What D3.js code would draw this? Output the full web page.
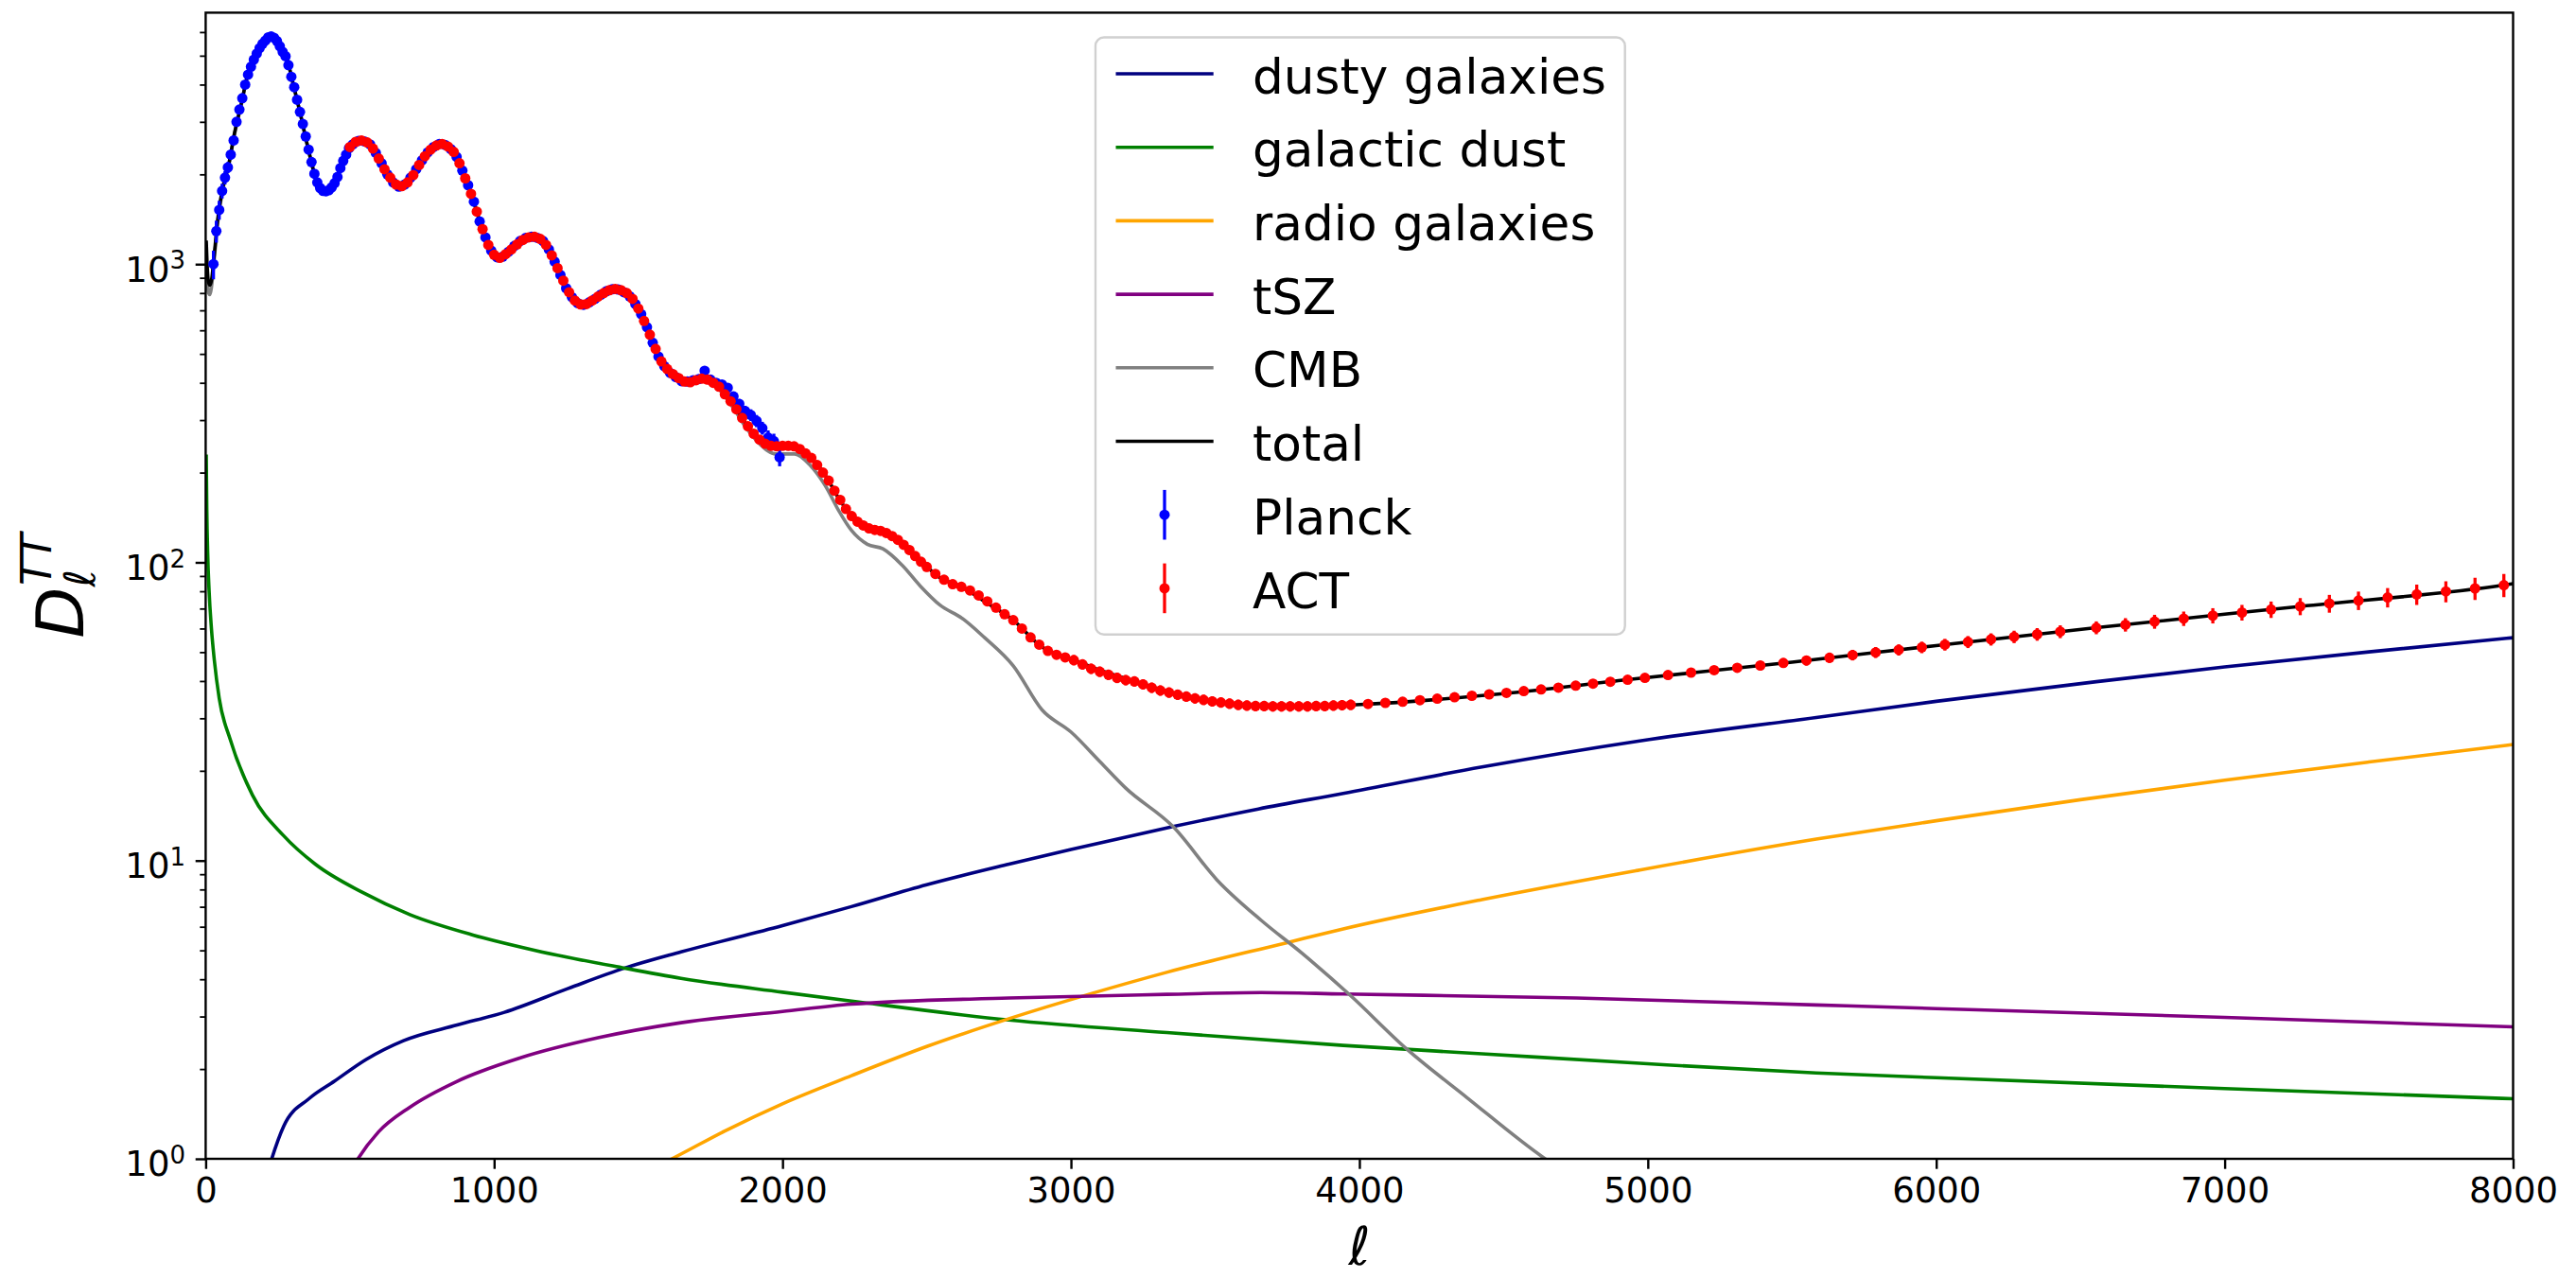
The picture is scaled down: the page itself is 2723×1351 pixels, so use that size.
<!DOCTYPE html>
<html>
<head>
<meta charset="utf-8">
<script src="https://cdn.jsdelivr.net/npm/d3@7"></script>
<style>
    body { margin: 0; background: #fff; }
    text { font-family: "DejaVu Sans", sans-serif; fill: #000; }
</style>
</head>
<body>
<div id="chart"></div>
<script>

// ---- data (ell, D_ell in muK^2) ----

// model curves
const dustyEll = [200, 229, 271, 358, 446, 555, 686, 872, 1036, 1255, 1452, 1648, 2000, 2239, 2500, 2785, 3000, 3354, 3650, 3944, 4425, 4972, 5584, 6000, 6555, 7000, 7500, 8000];
const dustyD   = [0.8, 1.0, 1.29, 1.59, 1.82, 2.15, 2.49, 2.81, 3.10, 3.72, 4.36, 4.94, 6.05, 7.01, 8.3, 9.73, 10.9, 13.0, 14.9, 16.8, 20.6, 25.2, 30.2, 34.2, 39.8, 44.6, 50.1, 55.9];

const galDustEll = [2, 4, 7, 12, 20, 30, 47, 85, 162, 271, 380, 544, 708, 927, 1146, 1452, 1648, 2000, 2239, 2785, 3332, 3944, 4425, 4972, 5584, 6000, 7000, 8000];
const galDustD   = [230, 150, 108, 80, 60, 47, 35, 25.5, 16.6, 12.1, 9.73, 7.82, 6.59, 5.63, 4.99, 4.36, 4.03, 3.62, 3.38, 2.92, 2.65, 2.40, 2.25, 2.09, 1.94, 1.87, 1.72, 1.59];

const radioEll = [1550, 1616, 1800, 2000, 2239, 2500, 2785, 3070, 3332, 3747, 3944, 4425, 4972, 5584, 6000, 6500, 7000, 7500, 8000];
const radioD   = [0.93, 1.0, 1.24, 1.53, 1.9, 2.38, 2.95, 3.58, 4.22, 5.3, 5.9, 7.4, 9.3, 11.8, 13.6, 16.0, 18.6, 21.4, 24.5];

const tszEll = [500, 528, 599, 708, 872, 1091, 1364, 1648, 2000, 2239, 2785, 3332, 3660, 3944, 4753, 5584, 6000, 7000, 8000];
const tszD   = [0.9, 1.0, 1.23, 1.49, 1.82, 2.18, 2.55, 2.86, 3.12, 3.30, 3.46, 3.56, 3.61, 3.57, 3.46, 3.28, 3.19, 2.98, 2.77];

const cmbEll = [2, 5, 10, 15, 20, 30, 41, 58, 80, 100, 125, 143, 162, 189, 210, 225, 240, 260, 282, 300,
    326, 353, 386, 413, 440, 468, 500, 533, 566, 599, 632, 675, 719, 763, 818, 861, 894, 927, 954, 982,
    1014, 1058, 1124, 1167, 1211, 1255, 1310, 1353, 1419, 1474, 1528, 1583, 1626, 1659, 1725, 1780, 1834, 1878, 1922, 1976,
    2042, 2097, 2151, 2195, 2239, 2294, 2348, 2414, 2479, 2545, 2622, 2700, 2800, 2900, 3000, 3100, 3190, 3354, 3507, 3660,
    3800, 3966, 4163, 4371, 4644, 4800];
const cmbD = [970, 880, 800, 790, 835, 1045, 1355, 1745, 2140, 2720, 3475, 4200, 4695, 5308, 5670, 5790, 5710, 5311, 4877, 4141,
    3258, 2492, 1880, 1747, 1821, 2100, 2462, 2587, 2523, 2261, 1975, 1812, 1975, 2316, 2524, 2373, 2001, 1644, 1351, 1138,
    1044, 1111, 1225, 1197, 1008, 808, 723, 760, 818, 770, 617, 459, 415, 395, 405, 380, 324, 279, 249, 231,
    231, 211, 179, 149, 128, 115, 111, 98, 83, 72, 65, 56, 45, 32, 27, 21.5, 17.5, 13.0, 8.6, 6.3,
    4.9, 3.55, 2.34, 1.61, 1.0, 0.8];

const totalEll = [2, 5, 10, 15, 20, 30, 41, 58, 80, 100, 125, 143, 162, 189, 210, 225, 240, 260, 282, 300,
    326, 353, 386, 413, 440, 468, 500, 533, 566, 599, 632, 675, 719, 763, 818, 861, 894, 927, 954, 982,
    1014, 1058, 1124, 1167, 1211, 1255, 1310, 1353, 1419, 1474, 1528, 1583, 1626, 1659, 1725, 1780, 1834, 1878, 1922, 1976,
    2042, 2097, 2151, 2195, 2239, 2294, 2348, 2414, 2479, 2545, 2622, 2700, 2800, 2900, 3000, 3100, 3223, 3350, 3500, 3660,
    3800, 3988, 4500, 4928, 5500, 6000, 6555, 7264, 7968, 8000];
const totalD = [1200, 1000, 870, 850, 880, 1080, 1390, 1780, 2160, 2750, 3500, 4220, 4710, 5320, 5680, 5800, 5720, 5320, 4886, 4150,
    3266, 2500, 1889, 1756, 1830, 2109, 2472, 2596, 2532, 2270, 1983, 1820, 1983, 2324, 2532, 2381, 2009, 1652, 1359, 1146,
    1052, 1119, 1233, 1205, 1016, 816, 731, 768, 826, 778, 625, 467, 423, 403, 413, 388, 332, 287, 257, 245,
    245, 225, 194, 164, 143, 131, 127, 116, 101, 89, 82.8, 74, 64, 52, 47.5, 43.5, 39.9, 36.5, 34, 33,
    32.8, 33.3, 36.3, 40.4, 46.3, 52.6, 60.4, 71.2, 83.9, 84.8];

// Planck band powers
const planckEll = [27, 37, 47, 57, 67, 77, 87, 97, 107, 117, 127, 137, 147, 157, 167, 177, 187, 197, 207, 217,
    227, 237, 247, 257, 267, 277, 287, 297, 307, 317, 327, 337, 347, 357, 367, 377, 387, 397, 407, 417,
    427, 437, 447, 457, 467, 477, 487, 497,
    510, 530, 550, 570, 590, 610, 630, 650, 670, 690, 710, 730, 750, 770, 790, 810, 830, 850, 870, 890,
    910, 930, 950, 970, 990, 1010, 1030, 1050, 1070, 1090, 1110, 1130, 1150, 1170, 1190, 1210, 1230, 1250, 1270, 1290,
    1310, 1330, 1350, 1370, 1390, 1410, 1430, 1450, 1470, 1490, 1510, 1530, 1550, 1570, 1590, 1610, 1630, 1650, 1670, 1690,
    1710, 1730, 1750, 1770, 1790, 1810, 1830, 1850, 1870, 1890, 1910, 1930, 1950, 1970, 1990];
const planckD = [1000, 1290, 1520, 1760, 1950, 2110, 2330, 2600, 3000, 3300, 3600, 4000, 4320, 4590, 4850, 5080, 5300, 5480, 5620, 5760,
    5800, 5740, 5600, 5380, 5150, 4980, 4650, 4250, 3920, 3560, 3240, 2950, 2680, 2420, 2200, 2010, 1880, 1800, 1760, 1755,
    1770, 1810, 1870, 1960, 2100, 2220, 2330, 2450,
    2520, 2590, 2580, 2520, 2360, 2180, 2000, 1880, 1820, 1850, 1950, 2080, 2230, 2370, 2470, 2530, 2510, 2430, 2290, 2060,
    1840, 1620, 1390, 1230, 1110, 1055, 1060, 1100, 1150, 1195, 1225, 1235, 1225, 1195, 1120, 1020, 920, 830, 775, 740,
    731, 745, 765, 790, 812, 824, 822, 805, 780, 735, 680, 615, 545, 490, 455, 432, 418, 405, 404, 408,
    412, 439, 410, 400, 395, 385, 360, 340, 322, 312, 298, 282, 262, 255, 225];
const planckErr = [110, 110, 110, 100, 100, 90, 90, 90, 60, 60, 60, 60, 60, 60, 60, 60, 60, 60, 60, 60,
    60, 60, 60, 60, 60, 60, 60, 60, 60, 60, 60, 60, 60, 60, 60, 60, 60, 60, 60, 60,
    60, 60, 60, 60, 60, 60, 60, 60,
    20, 20, 20, 20, 20, 20, 20, 20, 20, 20, 20, 20, 20, 20, 20, 20, 20, 20, 20, 20,
    20, 20, 20, 20, 20, 20, 20, 20, 20, 20, 20, 20, 20, 20, 20, 12, 12, 12, 12, 12,
    12, 12, 12, 12, 12, 12, 12, 12, 12, 12, 12, 12, 12, 12, 12, 10, 10, 10, 10, 10,
    10, 12, 12, 12, 12, 12, 13, 13, 13, 14, 14, 14, 15, 15, 15];

// ACT band powers, narrow bins
const actLowEll = [500, 520, 540, 560, 580, 600, 620, 640, 660, 680, 700, 720, 740, 760, 780, 800, 820, 840, 860, 880,
    900, 920, 940, 960, 980, 1000, 1020, 1040, 1060, 1080, 1100, 1120, 1140, 1160, 1180, 1200, 1220, 1240, 1260, 1280,
    1300, 1320, 1340, 1360, 1380, 1400, 1420, 1440, 1460, 1480, 1500, 1520, 1540, 1560, 1580, 1600, 1620, 1640, 1660, 1680,
    1700, 1720, 1740, 1760, 1780, 1800, 1820, 1840, 1860, 1880, 1900, 1920, 1940, 1960, 1980, 2000, 2020, 2040, 2060, 2080,
    2100, 2120, 2140, 2160, 2180, 2200, 2220, 2240, 2260, 2280, 2300, 2320, 2340, 2360, 2380, 2400, 2420, 2440, 2460, 2480,
    2500, 2530, 2560, 2590, 2620, 2650, 2680, 2710, 2740, 2770, 2800, 2830, 2860, 2890, 2920, 2950, 2980, 3010, 3040, 3070,
    3100, 3130, 3160, 3190, 3220, 3250, 3280, 3310, 3340, 3370, 3400, 3430, 3460, 3490, 3520, 3550, 3580, 3610, 3640, 3670,
    3700, 3730, 3760, 3790, 3820, 3850, 3880, 3910, 3940, 3970];
const actLowD = [2470, 2570, 2600, 2560, 2440, 2260, 2080, 1950, 1850, 1825, 1880, 1990, 2150, 2300, 2420, 2500, 2530, 2480, 2380, 2180,
    1940, 1720, 1500, 1310, 1160, 1075, 1050, 1080, 1120, 1165, 1205, 1230, 1235, 1215, 1160, 1070, 970, 880, 805, 755,
    733, 735, 755, 778, 800, 818, 826, 818, 800, 765, 710, 645, 580, 520, 472, 445, 428, 415, 404, 402,
    408, 413, 410, 400, 388, 366, 347, 326, 305, 286, 270, 258, 250, 246, 245, 246, 246, 245, 240, 232,
    224, 212, 200, 188, 174, 162, 151, 143, 137, 133, 130, 128.5, 127.5, 125.5, 122.5, 119, 114.5, 110, 105, 100.5,
    96.5, 91.5, 87.5, 84.5, 82.8, 80.5, 77.5, 74, 70.5, 67, 64, 60, 56, 53, 50.5, 49, 48, 47, 45.5, 44,
    43, 42, 41, 40.3, 39.9, 39, 38, 37.2, 36.6, 36, 35.5, 35, 34.6, 34.2, 33.9, 33.6, 33.3, 33.1, 33, 33,
    32.9, 32.9, 32.9, 32.9, 32.9, 33, 33, 33.1, 33.2, 33.3];
// fractional error of the narrow ACT bins, by ell band (edges in ell)
const actLowErrEdges = [1000, 1600, 2200, 3000];
const actLowErrFrac  = [0.01, 0.02, 0.03, 0.035, 0.04];

// ACT band powers, wide bins at high ell
const actHighEll = [4030, 4090, 4150, 4210, 4270, 4330, 4390, 4450, 4510, 4570, 4630, 4690, 4750, 4810, 4870, 4930, 4990,
    5070, 5150, 5230, 5310, 5390, 5470, 5550, 5630, 5710, 5790, 5870, 5950, 6030, 6110, 6190, 6270, 6350, 6430,
    6555, 6656, 6757, 6858, 6959, 7060, 7161, 7262, 7363, 7464, 7565, 7666, 7767, 7868, 7968];
const actHighD = [33.5, 33.8, 34.1, 34.5, 34.9, 35.3, 35.7, 36.1, 36.5, 37.0, 37.5, 38.0, 38.6, 39.2, 39.8, 40.4, 41.0,
    41.9, 42.7, 43.5, 44.3, 45.1, 46.0, 46.9, 47.9, 48.9, 49.9, 50.9, 51.9, 53.0, 54.1, 55.2, 56.3, 57.4, 58.6,
    60.4, 61.8, 63.3, 64.8, 66.3, 67.9, 69.5, 71.2, 72.8, 74.5, 76.3, 78.1, 79.9, 81.8, 83.9];
const actHighErr = [0.6, 0.6, 0.6, 0.7, 0.7, 0.7, 0.8, 0.8, 0.8, 0.9, 0.9, 0.9, 1.0, 1.0, 1.0, 1.1, 1.1,
    1.2, 1.3, 1.4, 1.5, 1.6, 1.7, 1.8, 1.9, 2.0, 2.1, 2.2, 2.3, 2.4, 2.5, 2.6, 2.7, 2.8, 2.9,
    3.0, 3.2, 3.4, 3.6, 3.9, 4.1, 4.4, 4.7, 5.0, 5.3, 5.7, 6.1, 6.5, 7.0, 7.5];

// axis ticks
const xTicks = [0, 1000, 2000, 3000, 4000, 5000, 6000, 7000, 8000];
const yMajor = [1, 10, 100, 1000];

// legend entries
const legendLines = ["dusty galaxies", "galactic dust", "radio galaxies", "tSZ", "CMB", "total"];
const legendPoints = ["Planck", "ACT"];

// ---- drawing ----

const width = 2723, height = 1351;
const margin = {top: 13.4, right: 66.5, bottom: 126, left: 217.4};
const w = width - margin.left - margin.right;
const h = height - margin.top - margin.bottom;

const colors = {
    dusty: "#000080", dust: "#008000", radio: "#ffa500",
    tsz: "#800080", cmb: "#808080", total: "#000000",
    planck: "#0000ff", act: "#ff0000"
};

const svg = d3.select("#chart").append("svg")
    .attr("width", width)
    .attr("height", height);

svg.append("rect").attr("width", width).attr("height", height).attr("fill", "#fff");

const g = svg.append("g")
    .attr("transform", "translate(" + margin.left + "," + margin.top + ")");

g.append("defs").append("clipPath")
    .attr("id", "clip")
    .append("rect")
    .attr("width", w)
    .attr("height", h);

const x = d3.scaleLinear().domain([0, 8000]).range([0, w]);
const y = d3.scaleLog().domain([1, 6970]).range([h, 0]);

const pairs = (a, b) => a.map((v, i) => [v, b[i]]);

const line = d3.line()
    .x(d => x(d[0]))
    .y(d => y(Math.max(d[1], 0.01)))
    .curve(d3.curveMonotoneX);

const plotArea = g.append("g").attr("clip-path", "url(#clip)");

// model curves
const curves = [
    {ell: dustyEll, d: dustyD, color: colors.dusty},
    {ell: galDustEll, d: galDustD, color: colors.dust},
    {ell: radioEll, d: radioD, color: colors.radio},
    {ell: tszEll, d: tszD, color: colors.tsz},
    {ell: cmbEll, d: cmbD, color: colors.cmb},
    {ell: totalEll, d: totalD, color: colors.total}
];

curves.forEach(c => {
    plotArea.append("path")
        .datum(pairs(c.ell, c.d))
        .attr("fill", "none")
        .attr("stroke", c.color)
        .attr("stroke-width", 3.6)
        .attr("stroke-linejoin", "round")
        .attr("d", line);
});

// error bar points
function drawPoints(ell, d, err, color) {
    let pts = ell.map((l, i) => ({l: l, d: d[i], e: err[i]}));
    let grp = plotArea.append("g");
    grp.selectAll("line.eb")
        .data(pts.filter(p => p.e > 0))
        .enter().append("line")
        .attr("class", "eb")
        .attr("x1", p => x(p.l))
        .attr("x2", p => x(p.l))
        .attr("y1", p => y(p.d - p.e))
        .attr("y2", p => y(p.d + p.e))
        .attr("stroke", color)
        .attr("stroke-width", 3.3);
    grp.selectAll("circle")
        .data(pts)
        .enter().append("circle")
        .attr("cx", p => x(p.l))
        .attr("cy", p => y(p.d))
        .attr("r", 5.5)
        .attr("fill", color);
}

const actLowErr = actLowEll.map((l, i) => {
    let k = d3.bisectRight(actLowErrEdges, l);
    return actLowD[i] * actLowErrFrac[k];
});

drawPoints(planckEll, planckD, planckErr, colors.planck);
drawPoints(actLowEll, actLowD, actLowErr, colors.act);
drawPoints(actHighEll, actHighD, actHighErr, colors.act);

// axes
const tickFont = 37;

const xAxis = g.append("g")
    .attr("transform", "translate(0," + h + ")")
    .call(d3.axisBottom(x).tickValues(xTicks).tickSize(10.7).tickPadding(9).tickFormat(d3.format("d")));
xAxis.select(".domain").remove();
xAxis.selectAll(".tick line").attr("stroke", "#000").attr("stroke-width", 2.4);
xAxis.selectAll(".tick text")
    .style("font-size", tickFont + "px")
    .style("font-family", "DejaVu Sans");

// y minor ticks
let minor = [];
[1, 10, 100, 1000].forEach(k => {
    for (let m = 2; m <= 9; m++) {
        if (m * k <= 6970) minor.push(m * k);
    }
});

const yMinor = g.append("g")
    .call(d3.axisLeft(y).tickValues(minor).tickSize(6.1).tickFormat(""));
yMinor.select(".domain").remove();
yMinor.selectAll(".tick line").attr("stroke", "#000").attr("stroke-width", 1.8);

const yAxis = g.append("g")
    .call(d3.axisLeft(y).tickValues(yMajor).tickSize(10.7).tickFormat(""));
yAxis.select(".domain").remove();
yAxis.selectAll(".tick line").attr("stroke", "#000").attr("stroke-width", 2.4);

yMajor.forEach(v => {
    let t = g.append("text")
        .attr("x", -21.4)
        .attr("y", y(v) + 18.5)
        .attr("text-anchor", "end")
        .style("font-size", tickFont + "px");
    t.append("tspan").text("10");
    t.append("tspan")
        .attr("dy", -13.4)
        .style("font-size", "26px")
        .text(String(Math.round(Math.log10(v))));
});

// frame
g.append("rect")
    .attr("width", w)
    .attr("height", h)
    .attr("fill", "none")
    .attr("stroke", "#000")
    .attr("stroke-width", 2.4);

// axis labels
svg.append("text")
    .attr("x", margin.left + w / 2)
    .attr("y", 1337)
    .attr("text-anchor", "middle")
    .style("font-size", "56px")
    .style("font-style", "italic")
    .text("ℓ");

const yl = svg.append("text")
    .attr("transform", "translate(88," + (margin.top + h / 2) + ") rotate(-90)")
    .attr("text-anchor", "middle")
    .style("font-size", "70px")
    .style("font-style", "italic");
yl.append("tspan").text("D");
yl.append("tspan").attr("dy", 12).style("font-size", "45px").text("ℓ");
yl.append("tspan").attr("dx", -17).attr("dy", -46).style("font-size", "45px").text("TT");

// legend
const F = 51.7;
const leg = svg.append("g");
leg.append("rect")
    .attr("x", 1158)
    .attr("y", 39.5)
    .attr("width", 1717.7 - 1158)
    .attr("height", 670.7 - 39.5)
    .attr("rx", 9)
    .attr("fill", "#fff")
    .attr("fill-opacity", 0.8)
    .attr("stroke", "#d0d0d0")
    .attr("stroke-width", 2.4);

const rowY = i => 78 + i * 77.7;
const lineColors = [colors.dusty, colors.dust, colors.radio, colors.tsz, colors.cmb, colors.total];

legendLines.forEach((name, i) => {
    leg.append("line")
        .attr("x1", 1179.5).attr("x2", 1282.7)
        .attr("y1", rowY(i)).attr("y2", rowY(i))
        .attr("stroke", lineColors[i])
        .attr("stroke-width", 3.6);
    leg.append("text")
        .attr("x", 1324)
        .attr("y", rowY(i) + 0.4 * F)
        .style("font-size", F + "px")
        .text(name);
});

const pointColors = [colors.planck, colors.act];
legendPoints.forEach((name, j) => {
    let i = j + legendLines.length;
    leg.append("line")
        .attr("x1", 1231).attr("x2", 1231)
        .attr("y1", rowY(i) - 26.3).attr("y2", rowY(i) + 26.3)
        .attr("stroke", pointColors[j])
        .attr("stroke-width", 3.3);
    leg.append("circle")
        .attr("cx", 1231).attr("cy", rowY(i))
        .attr("r", 5.5)
        .attr("fill", pointColors[j]);
    leg.append("text")
        .attr("x", 1324)
        .attr("y", rowY(i) + 0.4 * F)
        .style("font-size", F + "px")
        .text(name);
});

</script>
</body>
</html>
